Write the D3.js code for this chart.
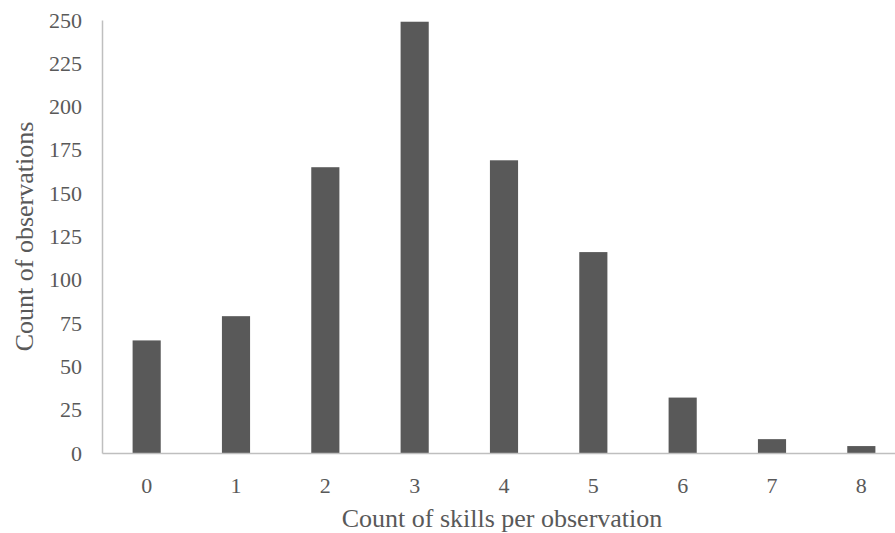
<!DOCTYPE html>
<html>
<head>
<meta charset="utf-8">
<script src="https://cdn.jsdelivr.net/npm/d3@7"></script>
<style>
  body { margin: 0; background: #fff; }
  text { font-family: "Liberation Serif", "DejaVu Serif", serif; fill: #595959; }
</style>
</head>
<body>
<svg id="canvas" width="895" height="533"></svg>
<script>
// data
var categories = ['0', '1', '2', '3', '4', '5', '6', '7', '8'];
var counts = [65, 79, 165, 249, 169, 116, 32, 8, 4];
var yTicks = [0, 25, 50, 75, 100, 125, 150, 175, 200, 225, 250];

var svg = d3.select('#canvas');
var plotLeft = 102, plotRight = 906, plotTop = 20, plotBottom = 453;

var xScale = d3.scaleBand().domain(categories).range([plotLeft, plotRight]).padding(0);
var yScale = d3.scaleLinear().domain([0, 250]).range([plotBottom, plotTop]);
var barW = xScale.bandwidth() * 0.315;

// bars
svg.append('g').selectAll('rect')
  .data(counts)
  .enter().append('rect')
  .attr('x', (d, i) => xScale(categories[i]) + (xScale.bandwidth() - barW) / 2)
  .attr('y', d => yScale(d))
  .attr('width', barW)
  .attr('height', d => yScale(0) - yScale(d))
  .attr('fill', '#595959');

// y axis
var yAxis = svg.append('g').attr('transform', 'translate(' + plotLeft + ',0)')
  .call(d3.axisLeft(yScale).tickValues(yTicks).tickSize(0).tickPadding(20));
yAxis.select('.domain').attr('stroke', '#bfbfbf').attr('stroke-width', 1.5);
yAxis.selectAll('text').style('font-size', '22px').style('font-family', '"Liberation Serif", serif').attr('fill', '#595959');

// x axis
var xAxis = svg.append('g').attr('transform', 'translate(0,' + plotBottom + ')')
  .call(d3.axisBottom(xScale).tickSize(0).tickPadding(24));
xAxis.select('.domain').attr('stroke', '#bfbfbf').attr('stroke-width', 1.5);
xAxis.selectAll('text').style('font-size', '22px').style('font-family', '"Liberation Serif", serif').attr('fill', '#595959');

// titles
svg.append('text')
  .attr('transform', 'translate(33,' + ((plotTop + plotBottom) / 2) + ') rotate(-90)')
  .attr('text-anchor', 'middle')
  .style('font-size', '26px')
  .text('Count of observations');

svg.append('text')
  .attr('x', 502).attr('y', 527)
  .attr('text-anchor', 'middle')
  .style('font-size', '26px')
  .text('Count of skills per observation');
</script>
</body>
</html>
